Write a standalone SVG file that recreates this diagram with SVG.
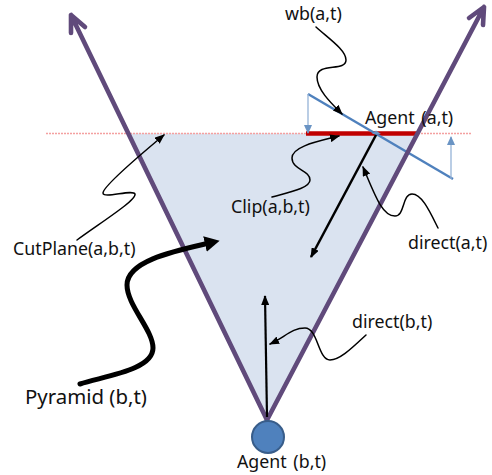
<svg xmlns="http://www.w3.org/2000/svg" width="492" height="475" viewBox="0 0 492 475">
<style>
text{font-family:"Noto Sans","Open Sans","Liberation Sans",sans-serif;font-size:17.8px;fill:#111}
.c{fill:none;stroke:#000;stroke-width:1.5;stroke-linecap:round}
.p{fill:none;stroke:#604a7b;stroke-width:4.6;stroke-linecap:round;stroke-linejoin:round}
.t{fill:none;stroke:#95b3d7;stroke-width:1.3}
</style>
<defs>
<marker id="a" markerUnits="userSpaceOnUse" markerWidth="10" markerHeight="8" refX="9" refY="4" orient="auto"><path d="M0,0L10,4L0,8Z" fill="#000"/></marker>
<marker id="b" markerUnits="userSpaceOnUse" markerWidth="9" markerHeight="8" refX="8" refY="4" orient="auto"><path d="M0,0L9,4L0,8Z" fill="#6a94c4"/></marker>
<marker id="c" markerUnits="userSpaceOnUse" markerWidth="15" markerHeight="16" refX="0" refY="8" orient="auto"><path d="M0,0L15,8L0,16Z" fill="#000"/></marker>
</defs>
<g id="pyramid"><path d="M129,133.5L417,133.5L267,420Z" fill="#dae3f0"/></g>
<g id="cutplane"><path d="M46,133.5H472" stroke="#f4a0a0" stroke-width="1.6" stroke-dasharray="2 1" fill="none"/></g>
<g id="clip"><path d="M306,133.5H417" stroke="#c00000" stroke-width="4.5" fill="none"/></g>
<g id="wb">
<path d="M308,94L453,179" fill="none" stroke="#4f81bd" stroke-width="2.4"/>
<path d="M372,134L376,130.5L381,134Z" fill="#6a94c4"/>
</g>
<g id="connectors">
<path class="t" d="M308,94V133" marker-end="url(#b)"/>
<path class="t" d="M451,179V137" marker-end="url(#b)"/>
<path class="p" d="M267,420L71,15M71,33L71,15L85,27"/>
<path class="p" d="M267,420L484,7M469,18L484,7L483,25"/>
<path d="M376,135L311,257" fill="none" stroke="#000" stroke-width="2.5" marker-end="url(#a)"/>
<path d="M267,417L265,296" fill="none" stroke="#000" stroke-width="2.2" marker-end="url(#a)"/>
<path class="c" d="M316,27C328,38 346,50 346,60C346,72 317,62 317,77C317,90 332,104 342,114" marker-end="url(#a)"/>
<path class="c" d="M272,197C290,192 310,188 310,180C310,170 292,170 292,158C292,146 320,141 339,136" marker-end="url(#a)"/>
<path class="c" d="M77,240C100,223 137,200 135,194C133,189 103,199 103,193C103,186 140,155 164,135" marker-end="url(#a)"/>
<path class="c" d="M366,335C352,348 340,360 330,360C318,360 318,328 305,328C292,328 285,337 270,344" marker-end="url(#a)"/>
<path class="c" d="M438,228C430,212 422,194 412,194C402,194 405,216 395,216C382,216 375,195 363,167" marker-end="url(#a)"/>
<path d="M80,384C105,376 153,370 153,348C153,330 127,305 127,285C127,262 170,252 205,244" fill="none" stroke="#000" stroke-width="5" stroke-linecap="round" marker-end="url(#c)"/>
</g>
<g id="agent-b"><circle cx="268" cy="437" r="16" fill="#4f81bd" stroke="#385d8a" stroke-width="2"/></g>
<text x="285" y="20">wb(a,t)</text>
<text x="365" y="124" word-spacing="2">Agent (a,t)</text>
<text x="231" y="213">Clip(a,b,t)</text>
<text x="13" y="255">CutPlane(a,b,t)</text>
<text x="408" y="249">direct(a,t)</text>
<text x="352" y="328">direct(b,t)</text>
<text x="25" y="404" style="font-size:20.4px">Pyramid (b,t)</text>
<text x="237" y="468" word-spacing="2">Agent (b,t)</text>
</svg>
